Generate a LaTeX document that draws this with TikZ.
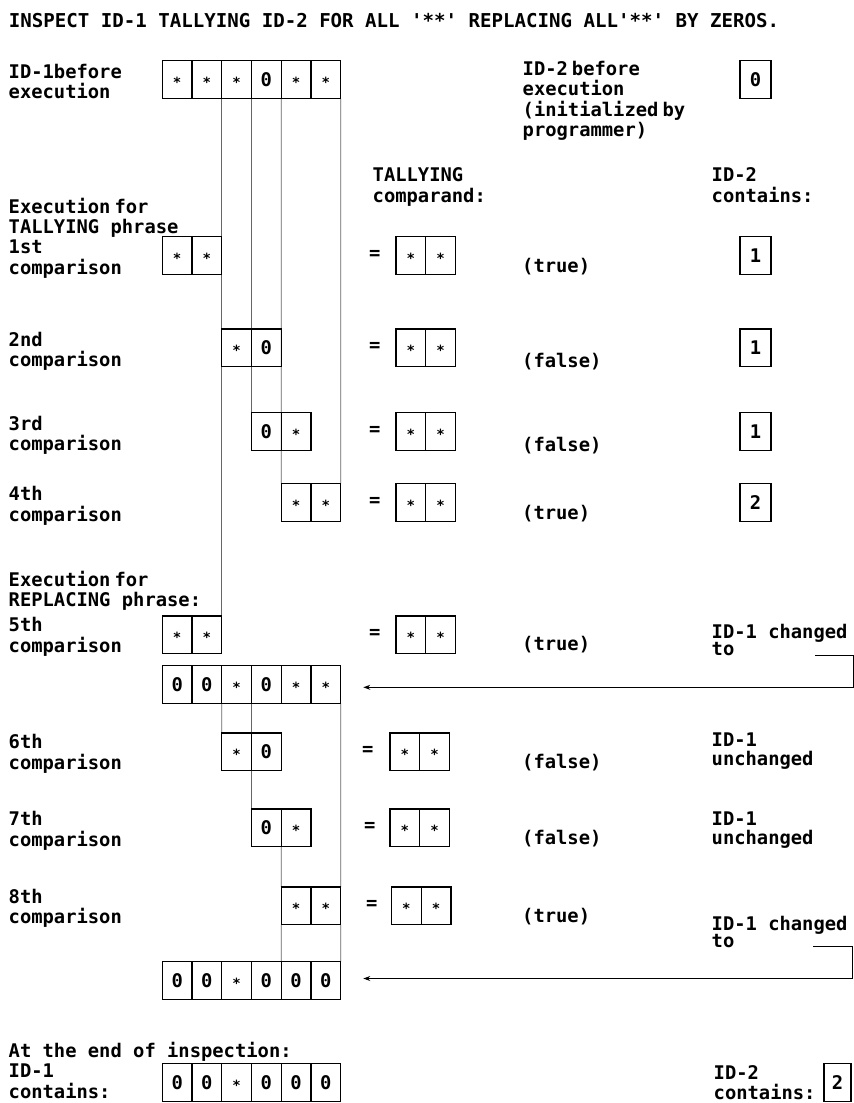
\documentclass[tikz,border=0pt]{standalone}
\usepackage{fontspec}
\setmainfont{DejaVu Sans Mono}[Ligatures=TeXOff]
\usetikzlibrary{arrows.meta,backgrounds}
\newcommand{\stk}[2]{\vtop{\baselineskip=#1pt\lineskiplimit=-1000pt\lineskip=0pt\relax #2}}
\newcommand{\astr}{\raisebox{-1.2pt}{\fontsize{14}{14}\selectfont *}}
\newcommand{\nsp}{\spaceskip=4pt\relax}
\newcommand{\cellrow}[4]{%
  \foreach \c [count=\i from 0] in {#4} {%
    \node[cell] (#1-\i) at ({#2+\i*29.73},#3) {\c};}}
\begin{document}
\begin{tikzpicture}[x=1pt,y=-1pt,
  lbl/.style={font=\fontsize{18.8}{20.5}\selectfont\bfseries, inner sep=0pt, anchor=base west},
  ttl/.style={font=\fontsize{19.1}{21}\selectfont\bfseries, inner sep=0pt, anchor=base west},
  cell/.style={draw, line width=1.1pt, outer sep=0pt, minimum width=29.73pt, minimum height=37.8pt,
    inner sep=0pt, anchor=north west, font=\fontsize{18.8}{20.5}\selectfont\bfseries,
    text height=13.7pt, text depth=0pt},
  vline/.style={line width=0.8pt, black!60},
  arr/.style={line width=1pt, -{Stealth[length=7pt,width=5pt]}}]
\useasboundingbox (0,0) rectangle (854,1103);
\begin{scope}[on background layer]
  \fill[white] (0,0) rectangle (854,1103);
\end{scope}

% title
\node[ttl] (title) at (8.6,27.4) {INSPECT ID-1 TALLYING ID-2 FOR ALL '**' REPLACING ALL'**' BY ZEROS.};

% left labels
\node[lbl] (L0) at (8.5,78.3) {\stk{20.2}{\hbox{ID-1before}\hbox{execution}}};
\node[lbl] (L1) at (8.5,213.3) {\stk{20.2}{\hbox{\nsp Execution for}\hbox{TALLYING phrase}}};
\node[lbl] (L1b) at (8.5,253.6) {\stk{20.4}{\hbox{1st}\hbox{comparison}}};
\node[lbl] (L2) at (8.5,346.7) {\stk{19.5}{\hbox{2nd}\hbox{comparison}}};
\node[lbl] (L3) at (8.5,430) {\stk{20}{\hbox{3rd}\hbox{comparison}}};
\node[lbl] (L4) at (8.5,500) {\stk{21}{\hbox{4th}\hbox{comparison}}};
\node[lbl] (L5) at (8.5,586.7) {\stk{20}{\hbox{\nsp Execution for}\hbox{REPLACING phrase:}}};
\node[lbl] (L5b) at (8.5,631.5) {\stk{20.5}{\hbox{5th}\hbox{comparison}}};
\node[lbl] (L6) at (8.5,748.3) {\stk{21.5}{\hbox{6th}\hbox{comparison}}};
\node[lbl] (L7) at (8.5,825) {\stk{21}{\hbox{7th}\hbox{comparison}}};
\node[lbl] (L8) at (8.5,903.3) {\stk{20}{\hbox{8th}\hbox{comparison}}};
\node[lbl] (L9) at (8.5,1057.5) {At the end of inspection:};
\node[lbl] (L9b) at (8.5,1077.5) {\stk{20.5}{\hbox{ID-1}\hbox{contains:}}};

% right labels
\node[lbl] (R0) at (522.5,75.4) {\stk{20.5}{\hbox{\nsp ID-2 before}\hbox{execution}\hbox{\nsp (initialized by}\hbox{programmer)}}};
\node[lbl] (R1) at (372.5,181.7) {\stk{21}{\hbox{TALLYING}\hbox{comparand:}}};
\node[lbl] (R2) at (711.5,181.7) {\stk{21}{\hbox{ID-2}\hbox{contains:}}};
\node[lbl] (R5) at (711.5,638.3) {\stk{16.7}{\hbox{ID-1 changed}\hbox{to}}};
\node[lbl] (R6) at (711.5,746.7) {\stk{19}{\hbox{ID-1}\hbox{unchanged}}};
\node[lbl] (R7) at (711.5,825) {\stk{19}{\hbox{ID-1}\hbox{unchanged}}};
\node[lbl] (R8) at (711.5,930.5) {\stk{16.7}{\hbox{ID-1 changed}\hbox{to}}};
\node[lbl] (R9) at (713.5,1079.5) {\stk{19.5}{\hbox{ID-2}\hbox{contains:}}};

% status
\node[lbl] (s1) at (522,272.6) {(true)};
\node[lbl] (s2) at (522,367.5) {(false)};
\node[lbl] (s3) at (522,451) {(false)};
\node[lbl] (s4) at (522,519) {(true)};
\node[lbl] (s5) at (522,650.6) {(true)};
\node[lbl] (s6) at (522,768.8) {(false)};
\node[lbl] (s7) at (522,844) {(false)};
\node[lbl] (s8) at (522,922) {(true)};

% cell rows
\cellrow{top}{162.3}{60.7}{\astr,\astr,\astr,0,\astr,\astr}
\cellrow{ra}{162.3}{236.7}{\astr,\astr}
\cellrow{rb}{221.76}{329}{\astr,0}
\cellrow{rc}{251.49}{412.7}{0,\astr}
\cellrow{rd}{281.22}{483.5}{\astr,\astr}
\cellrow{re}{162.3}{616}{\astr,\astr}
\cellrow{rowA}{162.3}{665.5}{0,0,\astr,0,\astr,\astr}
\cellrow{rf}{221.76}{733}{\astr,0}
\cellrow{rg}{251.49}{809}{0,\astr}
\cellrow{rh}{281.22}{887}{\astr,\astr}
\cellrow{rowB}{162.3}{961.5}{0,0,\astr,0,0,0}
\cellrow{fin}{162.3}{1063.5}{0,0,\astr,0,0,0}

% comparands
\cellrow{ca}{396}{236.7}{\astr,\astr}
\cellrow{cb}{396}{329}{\astr,\astr}
\cellrow{cc}{396}{412.7}{\astr,\astr}
\cellrow{cd}{396}{483.5}{\astr,\astr}
\cellrow{ce}{396}{616}{\astr,\astr}
\cellrow{cf}{390}{733}{\astr,\astr}
\cellrow{cg}{390}{809}{\astr,\astr}
\cellrow{ch}{391.5}{887}{\astr,\astr}

% equal signs
\node[lbl] (ea) at (369,259.3) {=};
\node[lbl] (eb) at (369,351.6) {=};
\node[lbl] (ec) at (369,435.3) {=};
\node[lbl] (ed) at (369,506.1) {=};
\node[lbl] (ee) at (369,638.6) {=};
\node[lbl] (ef) at (362,755.6) {=};
\node[lbl] (eg) at (364,831.6) {=};
\node[lbl] (eh) at (366,909.6) {=};

% ID-2 boxes
\node[cell, minimum width=31pt] (iz) at (740,60.7) {0};
\node[cell, minimum width=31pt] (i1) at (740,236.7) {1};
\node[cell, minimum width=31pt] (i2) at (740,329) {1};
\node[cell, minimum width=31pt] (i3) at (740,412.7) {1};
\node[cell, minimum width=31pt] (i4) at (740,483.5) {2};
\node[cell, minimum width=27pt] (ifin) at (824,1063.5) {2};

% vertical tracking lines
\begin{scope}[on background layer]
\draw[vline] (top-1.south east) -- (re-1.north east);
\draw[vline] (top-2.south east) -- (rc-0.north west);
\draw[vline] (top-3.south east) -- (rd-0.north west);
\draw[vline] (top-5.south east) -- (rd-1.north east);
\draw[vline] (rowA-1.south east) -- (rf-0.north west);
\draw[vline] (rowA-2.south east) -- (rg-0.north west);
\draw[vline] (rg-0.south east) -- (rh-0.north west);
\draw[vline] (rowA-5.south east) -- (rh-1.north east);
\draw[vline] (rh-0.south west) -- (rowB-4.north west);
\draw[vline] (rh-1.south east) -- (rowB-5.north east);
\end{scope}

% change arrows
\coordinate (p5) at (815,655);
\coordinate (q5) at (363.3,687.3);
\draw[arr] (p5) -- ++(38,0) |- (q5);
\coordinate (p8) at (813.3,946.5);
\coordinate (q8) at (363.3,978.5);
\draw[arr] (p8) -- ++(39.4,0) |- (q8);
\end{tikzpicture}
\end{document}
